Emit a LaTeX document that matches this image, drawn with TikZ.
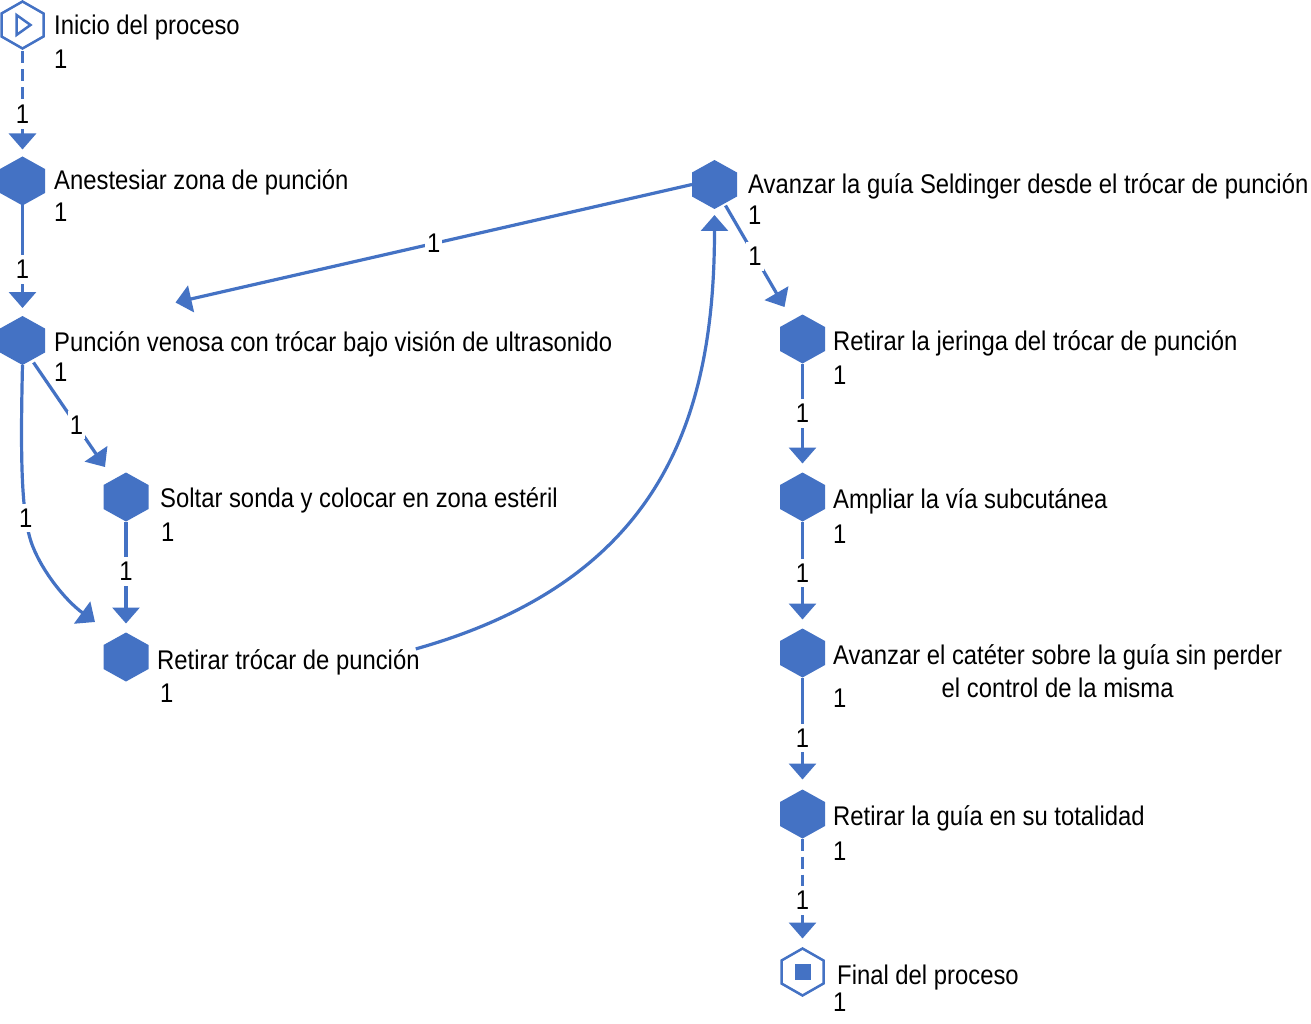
\documentclass[tikz,border=0pt]{standalone}
\usepackage{fontspec}
\setmainfont{Liberation Sans}[FakeStretch=0.883]
\usetikzlibrary{arrows.meta}
\definecolor{hexblue}{HTML}{4472C4}
\tikzset{
  every node/.style={font=\fontsize{27}{33}\selectfont},
  hexfill/.style={rectangle, minimum width=45pt, minimum height=49pt, inner sep=0pt, outer sep=0pt,
    path picture={\fill[hexblue, shift={(path picture bounding box.center)}]
      (0,-24.5) -- (22.5,-12) -- (22.5,12) -- (0,24.5) -- (-22.5,12) -- (-22.5,-12) -- cycle;}},
  hexstart/.style={rectangle, minimum width=48pt, minimum height=53pt, inner sep=0pt, outer sep=0pt,
    path picture={\draw[hexblue, line width=2.5pt, shift={(path picture bounding box.center)}]
      (0,-23.5) -- (21,-11.5) -- (21,11.5) -- (0,23.5) -- (-21,11.5) -- (-21,-11.5) -- cycle
      (-6,-10) -- (8,0) -- (-6,10) -- cycle;}},
  hexend/.style={rectangle, minimum width=48pt, minimum height=53pt, inner sep=0pt, outer sep=0pt,
    path picture={\draw[hexblue, line width=2.5pt, shift={(path picture bounding box.center)}]
      (0,-23.5) -- (21,-11.5) -- (21,11.5) -- (0,23.5) -- (-21,11.5) -- (-21,-11.5) -- cycle;
      \fill[hexblue, shift={(path picture bounding box.center)}] (-8,-8) rectangle (8,8);}},
  txt/.style={anchor=base west, inner sep=0pt, text=black},
  cnt/.style={fill=white, inner xsep=2pt, inner ysep=5pt, text=black},
  flow/.style={hexblue, line width=3.2pt, -{Triangle[length=16pt,width=27pt]}},
  dashflow/.style={flow, dash pattern=on 12pt off 6pt},
}
\begin{document}
\begin{tikzpicture}[x=1pt,y=-1pt]
\useasboundingbox[fill=white] (0,0) rectangle (1311,1024);

% nodes
\node[hexstart] (inicio)  at (22.5,25) {};
\node[hexfill]  (anest)   at (22.5,181) {};
\node[hexfill]  (punc)    at (22.5,340.5) {};
\node[hexfill]  (soltar)  at (126,497) {};
\node[hexfill]  (rtrocar) at (126,657) {};
\node[hexfill]  (aguia)   at (714.5,184.5) {};
\node[hexfill]  (jeringa) at (802.5,339) {};
\node[hexfill]  (ampliar) at (802.5,497) {};
\node[hexfill]  (cateter) at (802.5,653) {};
\node[hexfill]  (guia)    at (802.5,814) {};
\node[hexend]   (final)   at (802.5,972) {};

% texts
\node[txt] (inicio-t)  at (54,35)   {Inicio del proceso};
\node[txt] (inicio-n)  at (54,69)   {1};
\node[txt] (anest-t)   at (54,190)  {Anestesiar zona de punción};
\node[txt] (anest-n)   at (54,222)  {1};
\node[txt] (punc-t)    at (54,351)  {Punción venosa con trócar bajo visión de ultrasonido};
\node[txt] (punc-n)    at (54,381)  {1};
\node[txt] (soltar-t)  at (160,507) {Soltar sonda y colocar en zona estéril};
\node[txt] (soltar-n)  at (161,541) {1};
\node[txt] (rtrocar-t) at (157,669) {Retirar trócar de punción};
\node[txt] (rtrocar-n) at (160,702) {1};
\node[txt] (aguia-t)   at (748,194) {Avanzar la guía Seldinger desde el trócar de punción};
\node[txt] (aguia-n)   at (748,225) {1};
\node[txt] (jeringa-t) at (833,350) {Retirar la jeringa del trócar de punción};
\node[txt] (jeringa-n) at (833,384) {1};
\node[txt] (ampliar-t) at (833,508) {Ampliar la vía subcutánea};
\node[txt] (ampliar-n) at (833,543) {1};
\node[txt] (cateter-t) at (833,664) {\begin{tabular}[t]{@{}c@{}}Avanzar el catéter sobre la guía sin perder\\el control de la misma\end{tabular}};
\node[txt] (cateter-n) at (833,707) {1};
\node[txt] (guia-t)    at (833,825) {Retirar la guía en su totalidad};
\node[txt] (guia-n)    at (833,860) {1};
\node[txt] (final-t)   at (837,984) {Final del proceso};
\node[txt] (final-n)   at (833,1011) {1};

% connectors
\draw[dashflow, shorten >=7pt] (inicio.south) -- node[cnt,pos=0.6]{1} (anest.north);
\draw[flow, shorten >=8pt] (anest.south) -- node[cnt,pos=0.58]{1} (punc.north);
\draw[flow] ([shift={(11,22)}]punc.center) -- node[cnt,pos=0.6]{1} ([shift={(-21,-30)}]soltar.center);
\draw[flow] (punc.south) .. controls (20,470) and (22,520) .. node[cnt,pos=0.72]{1} (33,547)
   .. controls (43,572) and (65,600) .. ([shift={(-31,-35)}]rtrocar.center);
\draw[flow, shorten >=9pt] (soltar.south) -- node[cnt,pos=0.45]{1} (rtrocar.north);
\draw[flow, shorten >=6pt] ([shift={(-4,0)}]rtrocar-t.north east) .. controls (660,580) and (714.5,420) .. (aguia.south);
\draw[flow] (aguia.west) -- node[cnt,pos=0.5]{1} ([shift={(153,-38)}]punc.center);
\draw[flow] ([shift={(11,21)}]aguia.center) -- node[cnt,pos=0.5]{1} ([shift={(-18,-32)}]jeringa.center);
\draw[flow, shorten >=9pt] (jeringa.south) -- node[cnt,pos=0.46]{1} (ampliar.north);
\draw[flow, shorten >=9pt] (ampliar.south) -- node[cnt,pos=0.48]{1} (cateter.north);
\draw[flow, shorten >=10pt] (cateter.south) -- node[cnt,pos=0.54]{1} (guia.north);
\draw[dashflow, shorten >=7pt] (guia.south) -- node[cnt,pos=0.58]{1} (final.north);
\end{tikzpicture}
\end{document}
